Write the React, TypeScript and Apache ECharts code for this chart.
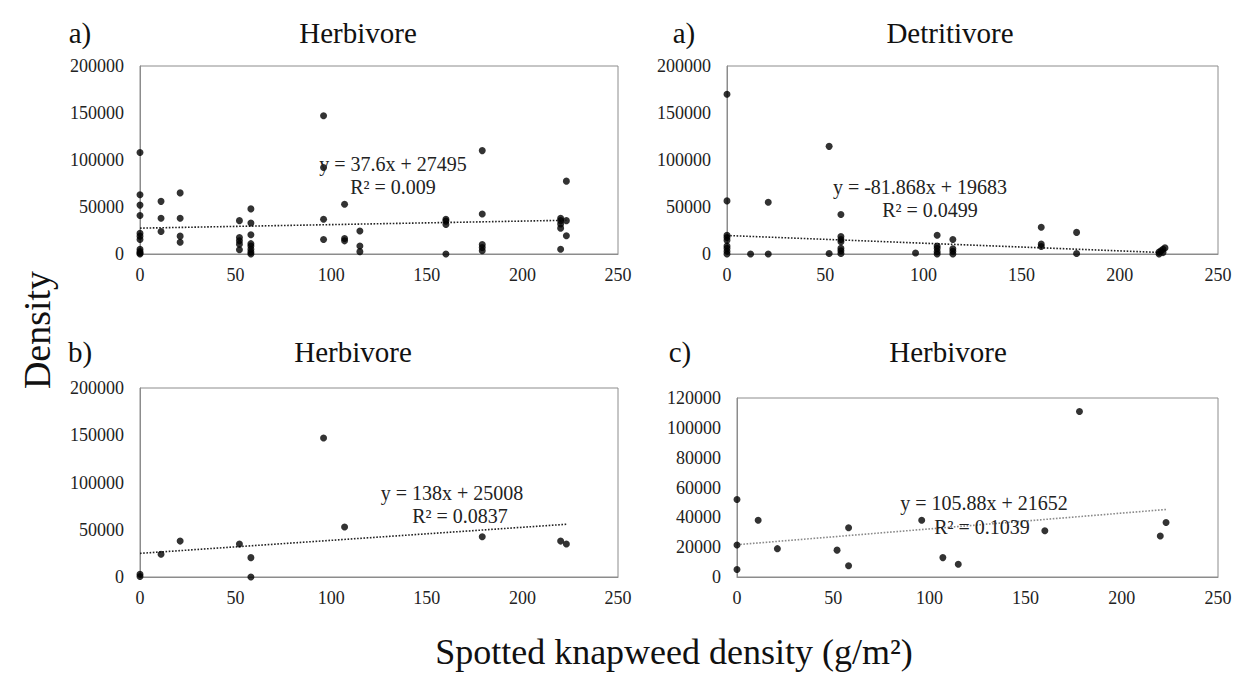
import React, { useEffect, useRef } from "react";
import * as echarts from "echarts";

// ---- data ----
const herbivoreA: [number, number][] = [
  [0, 108000], [0, 63000], [0, 52000], [0, 41000], [0, 22000], [0, 19000], [0, 15500], [0, 5000], [0, 2500], [0, 1000], [0, 0],
  [11, 56000], [11, 38000], [11, 24000],
  [21, 65000], [21, 38000], [21, 19000], [21, 12500],
  [52, 35500], [52, 17500], [52, 14000], [52, 10500], [52, 4500],
  [58, 48000], [58, 33000], [58, 20500], [58, 11000], [58, 8500], [58, 5000], [58, 2000], [58, 0],
  [96, 147000], [96, 92000], [96, 37000], [96, 15500],
  [107, 53000], [107, 16500], [107, 14000],
  [115, 24500], [115, 8500], [115, 2500],
  [160, 37000], [160, 35000], [160, 31500], [160, 0],
  [179, 110000], [179, 42500], [179, 10000], [179, 7000], [179, 3500],
  [220, 38000], [220, 35500], [220, 32000], [220, 27500], [220, 5000],
  [223, 77500], [223, 35500], [223, 19500],
];

const detritivoreA: [number, number][] = [
  [0, 170000], [0, 56500], [0, 20000], [0, 17500], [0, 14500], [0, 8500], [0, 6000], [0, 3000], [0, 0],
  [12, 0],
  [21, 55000], [21, 0],
  [52, 114500], [52, 500],
  [58, 42000], [58, 18500], [58, 15500], [58, 13000], [58, 6000], [58, 3500], [58, 500],
  [96, 1000],
  [107, 20000], [107, 8500], [107, 6000], [107, 2500], [107, 0],
  [115, 15500], [115, 5500], [115, 3000], [115, 0],
  [160, 28500], [160, 10500], [160, 8000],
  [178, 23000], [178, 500],
  [220, 0], [220, 2000], [221, 3500], [222, 5000], [223, 6500], [222, 1500],
];

const herbivoreB: [number, number][] = [
  [0, 3000], [0, 500], [11, 24000], [21, 38000], [52, 35000], [58, 20500], [58, 0],
  [96, 147000], [107, 53000], [179, 42500], [220, 38000], [223, 35000],
];

const herbivoreC: [number, number][] = [
  [0, 52000], [0, 21500], [0, 5000], [11, 38000], [21, 19000], [52, 18000], [58, 7500], [58, 33000],
  [96, 38000], [107, 13000], [115, 8500], [160, 31000], [178, 111000], [220, 27500], [223, 36500],
];

// trend lines (endpoints from the printed regression equations)
const trendA: [number, number][] = [[0, 27495], [223, 35880]];
const trendD: [number, number][] = [[0, 19683], [223, 1427]];
const trendB: [number, number][] = [[0, 25008], [223, 55782]];
const trendC: [number, number][] = [[0, 21652], [223, 45263]];

const xMax = 250;
const xStep = 50;
const yMaxes = [200000, 200000, 200000, 120000];
const ySteps = [50000, 50000, 50000, 20000];

const panelLetters = ["a)", "a)", "b)", "c)"];
const panelTitles = ["Herbivore", "Detritivore", "Herbivore", "Herbivore"];
const equations = ["y = 37.6x + 27495", "y = -81.868x + 19683", "y = 138x + 25008", "y = 105.88x + 21652"];
const rSquared = ["R² = 0.009", "R² = 0.0499", "R² = 0.0837", "R² = 0.1039"];
const xTitle = "Spotted knapweed density (g/m²)";
const yTitle = "Density";

const FAMILY = "Liberation Serif";

export default function App() {
  const ref = useRef<HTMLDivElement>(null);

  useEffect(() => {
    if (!ref.current) return;
    const chart = echarts.init(ref.current, undefined, { renderer: "svg" });

    const grids = [
      { left: 140, top: 66, width: 478, height: 188 },
      { left: 727, top: 66, width: 491, height: 188 },
      { left: 140, top: 388, width: 478, height: 189 },
      { left: 737, top: 398, width: 481, height: 179 },
    ];
    const scatterData = [herbivoreA, detritivoreA, herbivoreB, herbivoreC];
    const trends = [trendA, trendD, trendB, trendC];
    const trendColors = ["#222", "#222", "#222", "#8a8a8a"];

    const titlePos = [
      { letterX: 80, titleX: 358, y: 33 },
      { letterX: 684, titleX: 950, y: 33 },
      { letterX: 80, titleX: 353, y: 352 },
      { letterX: 680, titleX: 948, y: 352 },
    ];
    const eqPos = [
      { x1: 393, y1: 164, x2: 393, y2: 187 },
      { x1: 920, y1: 187, x2: 930, y2: 210 },
      { x1: 452, y1: 493, x2: 460, y2: 516 },
      { x1: 984, y1: 503, x2: 982, y2: 527 },
    ];

    const axisLabel = {
      fontFamily: FAMILY,
      fontSize: 18,
      color: "#222",
      formatter: (v: number) => String(v),
    };
    const axisLine = { show: true, lineStyle: { color: "#8c8c8c", width: 1 } };

    const txt = (text: string, x: number, y: number, size: number, fill: string, extra: any = {}) => ({
      type: "text",
      z: 10,
      ...extra,
      style: {
        text,
        x: extra.rotation ? 0 : x,
        y: extra.rotation ? 0 : y,
        fontFamily: FAMILY,
        fontSize: size,
        fill,
        align: "center",
        verticalAlign: "middle",
      },
      ...(extra.rotation ? { x, y } : {}),
    });

    const graphics: any[] = [];
    for (let i = 0; i < 4; i++) {
      const t = titlePos[i];
      graphics.push(txt(panelLetters[i], t.letterX, t.y, 29, "#111"));
      graphics.push(txt(panelTitles[i], t.titleX, t.y, 29, "#111"));
      const e = eqPos[i];
      graphics.push(txt(equations[i], e.x1, e.y1, 20, "#222"));
      graphics.push(txt(rSquared[i], e.x2, e.y2, 20, "#222"));
    }
    graphics.push(txt(xTitle, 674, 652, 36, "#111"));
    graphics.push(txt(yTitle, 37, 330, 38, "#111", { rotation: Math.PI / 2 }));

    const option: any = {
      animation: false,
      backgroundColor: "#fff",
      textStyle: { fontFamily: FAMILY },
      grid: grids.map((g) => ({ ...g, show: true, borderColor: "#8c8c8c", borderWidth: 1, containLabel: false })),
      xAxis: grids.map((_, i) => ({
        type: "value",
        gridIndex: i,
        min: 0,
        max: xMax,
        interval: xStep,
        axisLine,
        axisTick: { show: false },
        splitLine: { show: false },
        axisLabel: { ...axisLabel, margin: 12 },
      })),
      yAxis: grids.map((_, i) => ({
        type: "value",
        gridIndex: i,
        min: 0,
        max: yMaxes[i],
        interval: ySteps[i],
        axisLine,
        axisTick: { show: false },
        splitLine: { show: false },
        axisLabel: { ...axisLabel, margin: 16 },
      })),
      series: [
        ...trends.map((d, i) => ({
          type: "line",
          xAxisIndex: i,
          yAxisIndex: i,
          data: d,
          symbol: "none",
          lineStyle: { type: "dotted", width: 1.6, color: trendColors[i] },
          z: 2,
        })),
        ...scatterData.map((d, i) => ({
          type: "scatter",
          xAxisIndex: i,
          yAxisIndex: i,
          data: d,
          symbol: "circle",
          symbolSize: 7,
          itemStyle: { color: "#000" },
          clip: false,
          z: 3,
        })),
      ],
      graphic: graphics,
    };

    chart.setOption(option);
    return () => chart.dispose();
  }, []);

  return (
    <div
      ref={ref}
      style={{ position: "fixed", left: 0, top: 0, width: 1238, height: 675, background: "#fff" }}
    />
  );
}
